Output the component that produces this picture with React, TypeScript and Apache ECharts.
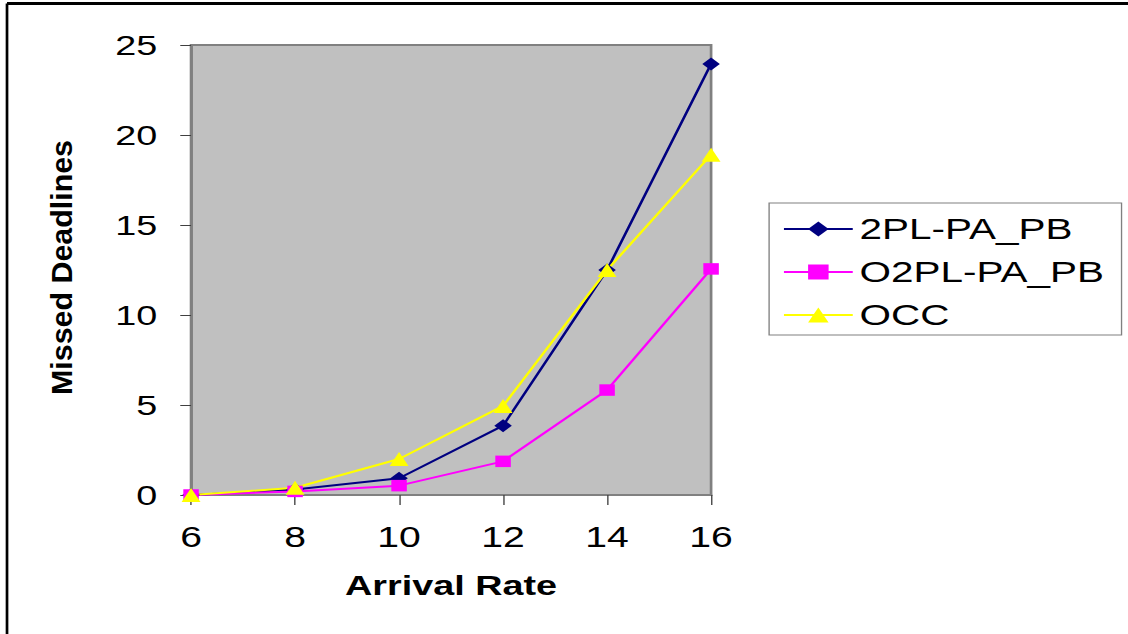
import React, { useEffect, useRef } from "react";
import * as echarts from "echarts";

const categories = ["6", "8", "10", "12", "14", "16"];
const series2PL = [0, 0.3, 0.93, 3.85, 12.5, 23.95];
const seriesO2PL = [0, 0.2, 0.52, 1.87, 5.83, 12.56];
const seriesOCC = [0, 0.4, 2.0, 4.95, 12.5, 18.9];
const seriesNames = ["2PL-PA_PB", "O2PL-PA_PB", "OCC"];
const yTitle = "Missed Deadlines";
const xTitle = "Arrival Rate";

const SX = 1.3493;
const W = 836;
const H = 634;

export default function App() {
  const ref = useRef<HTMLDivElement>(null);
  useEffect(() => {
    const chart = echarts.init(ref.current!, null, { renderer: "svg" });
    const font = "'Liberation Sans', Arial, sans-serif";
    chart.setOption({
      animation: false,
      backgroundColor: "#ffffff",
      grid: {
        left: 141.6,
        top: 45,
        width: 385.4,
        height: 450,
        show: true,
        backgroundColor: "#c0c0c0",
        borderColor: "#808080",
        borderWidth: 2,
      },
      legend: {
        orient: "vertical",
        left: 570,
        top: 203,
        data: seriesNames,
        backgroundColor: "#ffffff",
        borderColor: "#808080",
        borderWidth: 1,
        padding: [11, 13, 5, 10],
        itemGap: 13,
        itemWidth: 51,
        itemHeight: 19,
        textStyle: { fontFamily: font, fontSize: 30, color: "#000" },
      },
      xAxis: {
        type: "category",
        data: categories,
        boundaryGap: false,
        axisLine: { lineStyle: { color: "#808080", width: 2 } },
        axisTick: { show: true, length: 10, lineStyle: { color: "#404040" } },
        axisLabel: { fontFamily: font, fontSize: 29, color: "#000", margin: 27 },
        name: xTitle,
        nameLocation: "middle",
        nameGap: 76,
        nameTextStyle: { fontFamily: font, fontSize: 28, fontWeight: "bold", color: "#000" },
        splitLine: { show: false },
      },
      yAxis: {
        type: "value",
        min: 0,
        max: 25,
        interval: 5,
        axisLine: { show: true, lineStyle: { color: "#808080", width: 2 } },
        axisTick: { show: true, length: 8, lineStyle: { color: "#404040" } },
        axisLabel: { fontFamily: font, fontSize: 28, color: "#000", margin: 25 },
        splitLine: { show: false },
      },
      graphic: [
        { type: "line", shape: { x1: 5.2, y1: 3.5, x2: W, y2: 3.5 }, style: { stroke: "#000", lineWidth: 3 } },
        { type: "line", shape: { x1: 5.2, y1: 3.5, x2: 5.2, y2: H }, style: { stroke: "#000", lineWidth: 2 } },
        {
          type: "text",
          x: 45.8,
          y: 267.5,
          rotation: Math.PI / 2,
          scaleX: 1.357,
          scaleY: 1,
          style: {
            text: yTitle,
            font: "bold 22.4px 'Liberation Sans', Arial, sans-serif",
            fill: "#000",
            align: "center",
            verticalAlign: "middle",
            textAlign: "center",
            textVerticalAlign: "middle",
          },
        },
      ],
      series: [
        {
          name: seriesNames[0],
          type: "line",
          data: series2PL,
          symbol: "diamond",
          symbolSize: 13,
          itemStyle: { color: "#000080" },
          lineStyle: { color: "#000080", width: 2 },
        },
        {
          name: seriesNames[1],
          type: "line",
          data: seriesO2PL,
          symbol: "rect",
          symbolSize: 11.5,
          itemStyle: { color: "#ff00ff" },
          lineStyle: { color: "#ff00ff", width: 2 },
        },
        {
          name: seriesNames[2],
          type: "line",
          data: seriesOCC,
          symbol: "triangle",
          symbolSize: 14,
          itemStyle: { color: "#ffff00" },
          lineStyle: { color: "#ffff00", width: 2 },
        },
      ],
    });
    return () => chart.dispose();
  }, []);
  return (
    <div
      style={{
        position: "fixed",
        left: 0,
        top: 0,
        width: W,
        height: H,
        transform: `scaleX(${SX})`,
        transformOrigin: "0 0",
      }}
    >
      <div ref={ref} style={{ width: W, height: H }} />
    </div>
  );
}
